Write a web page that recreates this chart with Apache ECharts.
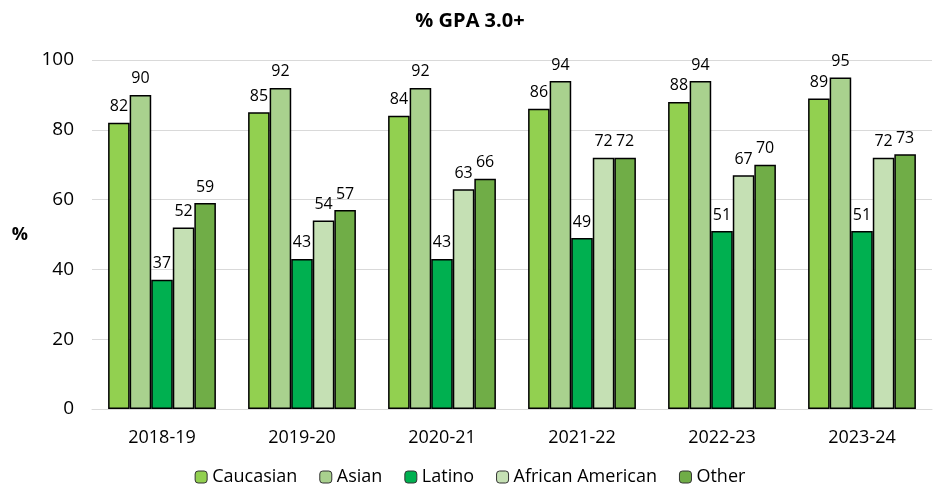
<!DOCTYPE html>
<html>
<head>
<meta charset="utf-8">
<script src="https://cdn.jsdelivr.net/npm/echarts@6/dist/echarts.min.js"></script>
<style>
  html, body { margin: 0; padding: 0; background: #fff; }
  #chart { width: 940px; height: 491px; }
</style>
</head>
<body>
<div id="chart"></div>
<script>
// School years on the category axis
const years = ['2018-19', '2019-20', '2020-21', '2021-22', '2022-23', '2023-24'];

// Share of students with GPA 3.0 or higher, by group
const caucasian = [82, 85, 84, 86, 88, 89];
const asian = [90, 92, 92, 94, 94, 95];
const latino = [37, 43, 43, 49, 51, 51];
const africanAmerican = [52, 54, 63, 72, 67, 72];
const other = [59, 57, 66, 72, 70, 73];

const yTicks = [0, 20, 40, 60, 80, 100];

const FONT = '"Open Sans", sans-serif';

const groups = [
  { name: 'Caucasian', data: caucasian, color: '#92D050' },
  { name: 'Asian', data: asian, color: '#A9D18E' },
  { name: 'Latino', data: latino, color: '#00B050' },
  { name: 'African American', data: africanAmerican, color: '#C5E0B4' },
  { name: 'Other', data: other, color: '#70AD47' }
];

const chart = echarts.init(document.getElementById('chart'));
chart.setOption({
  animation: false,
  title: {
    text: '% GPA 3.0+',
    left: 'center',
    top: 6,
    textStyle: { fontFamily: FONT, fontSize: 20, fontWeight: 'bold', color: '#000' }
  },
  legend: {
    bottom: 0,
    left: 'center',
    itemWidth: 12,
    itemHeight: 12,
    itemGap: 22,
    textStyle: { fontFamily: FONT, fontSize: 18, color: '#000' },
    data: groups.map(g => ({ name: g.name, itemStyle: { borderColor: '#333', borderWidth: 1 } }))
  },
  grid: { left: 92, right: 8, top: 60, bottom: 82, containLabel: false },
  xAxis: {
    type: 'category',
    data: years,
    axisLine: { show: true, lineStyle: { color: '#d9d9d9', width: 1 } },
    axisTick: { show: false },
    axisLabel: { fontFamily: FONT, fontSize: 18, color: '#000', margin: 20 }
  },
  yAxis: {
    type: 'value',
    min: yTicks[0],
    max: yTicks[yTicks.length - 1],
    interval: 20,
    name: '%',
    nameLocation: 'middle',
    nameRotate: 0,
    nameGap: 64,
    nameTextStyle: { fontFamily: FONT, fontSize: 18, fontWeight: 'bold', color: '#000' },
    axisLine: { show: false },
    axisTick: { show: false },
    axisLabel: { fontFamily: FONT, fontSize: 19, color: '#000', margin: 18 },
    splitLine: { lineStyle: { color: '#d9d9d9', width: 1 } }
  },
  series: groups.map(g => ({
    name: g.name,
    type: 'bar',
    data: g.data,
    barGap: '0%',
    barCategoryGap: '23%',
    itemStyle: { color: g.color, borderColor: '#000', borderWidth: 1.5 },
    label: {
      show: true,
      position: 'top',
      distance: 8,
      fontFamily: FONT,
      fontSize: 16,
      color: '#000'
    }
  }))
});
</script>
</body>
</html>
